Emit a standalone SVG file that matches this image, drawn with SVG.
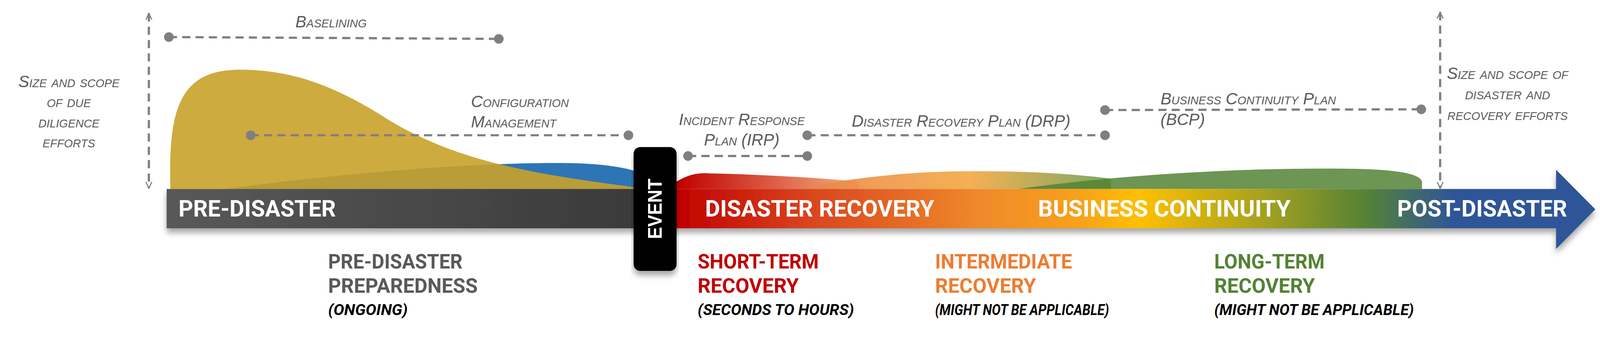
<svg xmlns="http://www.w3.org/2000/svg" width="4326" height="898" viewBox="0 0 4326 898">
<style>
.note{font-family:"Liberation Sans",Arial,sans-serif;font-style:italic;font-variant:small-caps;font-size:44px;fill:#595959}
.bar{font-family:"Roboto","Liberation Sans",sans-serif;font-weight:bold;font-size:62px;fill:#fff}
.ph{font-family:"Roboto","Liberation Sans",sans-serif;font-weight:bold;font-size:54px}
.sub{font-family:"Roboto","Liberation Sans",sans-serif;font-weight:bold;font-style:italic;font-size:40px;fill:#000}
.dash{stroke:#7f7f7f;stroke-width:6;stroke-dasharray:22 14;fill:none}
.dot{fill:#7f7f7f}
</style>
<defs>
<linearGradient id="bg" gradientUnits="userSpaceOnUse" x1="450" y1="0" x2="4310" y2="0">
<stop offset="0" stop-color="#595959"/><stop offset="0.327" stop-color="#3a3a3a"/>
<stop offset="0.357" stop-color="#c00000"/><stop offset="0.45" stop-color="#d9451f"/>
<stop offset="0.57" stop-color="#ef8a2a"/><stop offset="0.64" stop-color="#f7a21b"/>
<stop offset="0.68" stop-color="#ffc000"/><stop offset="0.77" stop-color="#a3a020"/>
<stop offset="0.84" stop-color="#548235"/><stop offset="0.9" stop-color="#2f5597"/>
<stop offset="1" stop-color="#2f5597"/>
</linearGradient>
<linearGradient id="rg" x1="0" y1="0" x2="1" y2="0"><stop offset="0" stop-color="#c00000"/><stop offset="1" stop-color="#f4b183"/></linearGradient>
<linearGradient id="og" x1="0" y1="0" x2="1" y2="0"><stop offset="0" stop-color="#e8834a"/><stop offset="0.55" stop-color="#f5a742"/><stop offset="1" stop-color="#70a050"/></linearGradient>
<filter id="sh" x="-5%" y="-20%" width="110%" height="160%"><feDropShadow dx="0" dy="12" stdDeviation="8" flood-color="#000" flood-opacity="0.35"/></filter>
<marker id="ah" viewBox="0 0 20 20" refX="18" refY="10" markerWidth="20" markerHeight="20" orient="auto-start-reverse" markerUnits="userSpaceOnUse"><path d="M1,2 L18,10 L1,18" fill="none" stroke="#7f7f7f" stroke-width="3"/></marker>
</defs>
<g transform="scale(0.948)">
<g id="curves">
<path d="M608,510 C900,470 1250,440 1504,440 C1620,440 1690,450 1740,470 L1740,510 Z" fill="#2e75b6"/>
<path d="M460,510 C455,300 480,188 649,188 C800,188 920,240 1060,330 C1250,440 1450,470 1711,505 L1711,510 Z" fill="#c9a22a" fill-opacity="0.9"/>
<path d="M1827,510 L1827,490 C1860,470 1890,465 1918,468 C2050,470 2200,480 2320,490 L2320,510 Z" fill="url(#rg)"/>
<path d="M2150,510 C2300,480 2450,462 2632,462 C2800,462 2900,470 3000,482 L3000,510 Z" fill="url(#og)" fill-opacity="0.9"/>
<path d="M2750,510 C3000,475 3300,455 3580,455 C3720,455 3830,460 3840,490 L3840,510 Z" fill="#548235" fill-opacity="0.85"/>
</g>
<g id="bar" filter="url(#sh)">
<path d="M450,510 L4202,510 L4202,458 L4308,565 L4202,672 L4202,616 L450,616 Z" fill="url(#bg)"/>
</g>
<g id="event" filter="url(#sh)">
<rect x="1711" y="397" width="116" height="334" rx="18" fill="#000"/>
<text transform="translate(1787,645) rotate(-90)" font-family="'Liberation Sans',Arial,sans-serif" font-weight="bold" font-size="52" fill="#fff" textLength="163" lengthAdjust="spacingAndGlyphs">EVENT</text>
</g>
<g id="bar-labels">
<text class="bar" x="482" y="584" textLength="425" lengthAdjust="spacingAndGlyphs">PRE-DISASTER</text>
<text class="bar" x="1904" y="584" textLength="619" lengthAdjust="spacingAndGlyphs">DISASTER RECOVERY</text>
<text class="bar" x="2803" y="584" textLength="682" lengthAdjust="spacingAndGlyphs">BUSINESS CONTINUITY</text>
<text class="bar" x="3773" y="584" textLength="459" lengthAdjust="spacingAndGlyphs">POST-DISASTER</text>
</g>
<g id="phases">
<text class="ph" fill="#595959" x="886" y="725" textLength="363" lengthAdjust="spacingAndGlyphs">PRE-DISASTER</text>
<text class="ph" fill="#595959" x="886" y="790" textLength="404" lengthAdjust="spacingAndGlyphs">PREPAREDNESS</text>
<text class="sub" x="886" y="850" textLength="215" lengthAdjust="spacingAndGlyphs">(ONGOING)</text>
<text class="ph" fill="#c00000" x="1884" y="725" textLength="327" lengthAdjust="spacingAndGlyphs">SHORT-TERM</text>
<text class="ph" fill="#c00000" x="1884" y="790" textLength="273" lengthAdjust="spacingAndGlyphs">RECOVERY</text>
<text class="sub" x="1884" y="850" textLength="422" lengthAdjust="spacingAndGlyphs">(SECONDS TO HOURS)</text>
<text class="ph" fill="#ed7d31" x="2525" y="725" textLength="370" lengthAdjust="spacingAndGlyphs">INTERMEDIATE</text>
<text class="ph" fill="#ed7d31" x="2525" y="790" textLength="273" lengthAdjust="spacingAndGlyphs">RECOVERY</text>
<text class="sub" x="2525" y="850" textLength="470" lengthAdjust="spacingAndGlyphs">(MIGHT NOT BE APPLICABLE)</text>
<text class="ph" fill="#548235" x="3279" y="725" textLength="298" lengthAdjust="spacingAndGlyphs">LONG-TERM</text>
<text class="ph" fill="#548235" x="3279" y="790" textLength="272" lengthAdjust="spacingAndGlyphs">RECOVERY</text>
<text class="sub" x="3279" y="850" textLength="539" lengthAdjust="spacingAndGlyphs">(MIGHT NOT BE APPLICABLE)</text>
</g>
<g id="connectors">
<line class="dash" x1="402" y1="36" x2="402" y2="508" stroke-dasharray="26 16" marker-start="url(#ah)" marker-end="url(#ah)"/>
<line class="dash" x1="3889" y1="33" x2="3889" y2="508" stroke-dasharray="26 16" marker-start="url(#ah)" marker-end="url(#ah)"/>
<line class="dash" x1="456" y1="100" x2="1347" y2="105"/><circle class="dot" cx="456" cy="100" r="13"/><circle class="dot" cx="1347" cy="105" r="13"/>
<line class="dash" x1="677" y1="365" x2="1697" y2="365"/><circle class="dot" cx="677" cy="365" r="13"/><circle class="dot" cx="1697" cy="365" r="13"/>
<line class="dash" x1="1858" y1="421" x2="2180" y2="421"/><circle class="dot" cx="1858" cy="421" r="13"/><circle class="dot" cx="2180" cy="421" r="13"/>
<line class="dash" x1="2180" y1="365" x2="2984" y2="365"/><circle class="dot" cx="2180" cy="365" r="13"/><circle class="dot" cx="2984" cy="365" r="13"/>
<line class="dash" x1="2984" y1="297" x2="3838" y2="295"/><circle class="dot" cx="2984" cy="297" r="13"/><circle class="dot" cx="3838" cy="295" r="13"/>
</g>
<g id="notes">
<text class="note" x="894" y="74" text-anchor="middle">Baselining</text>
<text class="note" x="186" y="235" text-anchor="middle">Size and scope</text>
<text class="note" x="186" y="289" text-anchor="middle">of due</text>
<text class="note" x="186" y="344" text-anchor="middle">diligence</text>
<text class="note" x="186" y="398" text-anchor="middle">efforts</text>
<text class="note" x="1272" y="289">Configuration</text>
<text class="note" x="1272" y="344">Management</text>
<text class="note" x="2003" y="338" text-anchor="middle">Incident Response</text>
<text class="note" x="2003" y="392" text-anchor="middle">Plan (IRP)</text>
<text class="note" x="2300" y="342">Disaster Recovery Plan (DRP)</text>
<text class="note" x="3134" y="282">Business Continuity Plan</text>
<text class="note" x="3134" y="338">(BCP)</text>
<text class="note" x="4071" y="213" text-anchor="middle">Size and scope of</text>
<text class="note" x="4071" y="268" text-anchor="middle">disaster and</text>
<text class="note" x="4071" y="324" text-anchor="middle">recovery efforts</text>
</g>
</g>
</svg>
